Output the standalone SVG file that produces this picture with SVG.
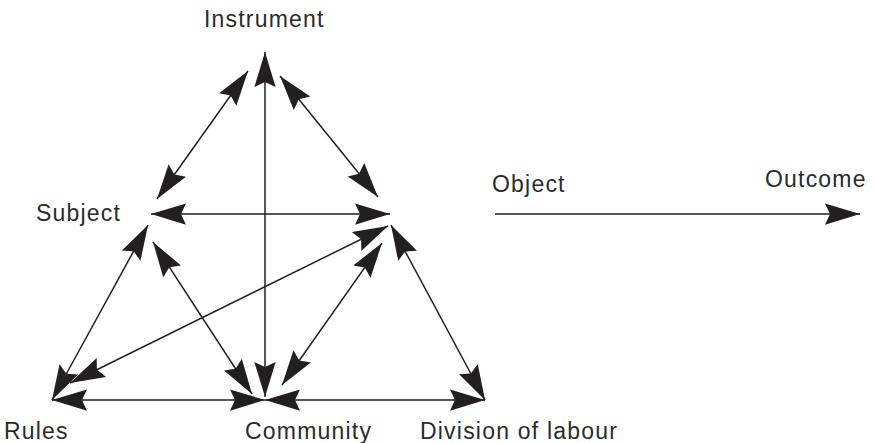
<svg xmlns="http://www.w3.org/2000/svg" width="876" height="443" viewBox="0 0 876 443">
<defs>
<marker id="ah" markerUnits="userSpaceOnUse" markerWidth="40" markerHeight="40" refX="0" refY="0" viewBox="-30 -10 32 20" orient="auto-start-reverse" overflow="visible">
<path d="M0,0 L-28,-8.5 L-24,0 L-28,8.5 Z" fill="#231f20"/>
</marker>
</defs>
<style>
.lbl{font-family:"Liberation Sans",Arial,sans-serif;font-size:23px;letter-spacing:1.2px;fill:#2b2b2b}
.c{stroke:#231f20;stroke-width:1.5;fill:none;marker-end:url(#ah)}
.b{marker-start:url(#ah)}
</style>
<rect width="876" height="443" fill="#fff"/>
<g id="connectors">
<line class="c b" x1="265" y1="397" x2="265" y2="52"/>
<line class="c b" x1="157" y1="199" x2="248" y2="71"/>
<line class="c b" x1="378" y1="197" x2="280" y2="76"/>
<line class="c b" x1="390" y1="214" x2="151" y2="214"/>
<line class="c b" x1="52" y1="400" x2="148" y2="225"/>
<line class="c b" x1="252" y1="394" x2="153" y2="242"/>
<line class="c b" x1="70" y1="383" x2="388" y2="226"/>
<line class="c b" x1="282" y1="385" x2="382" y2="243"/>
<line class="c b" x1="485" y1="400" x2="391" y2="225"/>
<line class="c b" x1="265" y1="400" x2="52" y2="400"/>
<line class="c b" x1="265" y1="400" x2="485" y2="400"/>
<line class="c" x1="495" y1="214" x2="860" y2="214"/>
</g>
<g id="instrument"><text class="lbl" x="204" y="27">Instrument</text></g>
<g id="subject"><text class="lbl" x="36" y="221">Subject</text></g>
<g id="object"><text class="lbl" x="492" y="192">Object</text></g>
<g id="outcome"><text class="lbl" x="765" y="187">Outcome</text></g>
<g id="rules"><text class="lbl" x="4" y="439">Rules</text></g>
<g id="community"><text class="lbl" x="245" y="439">Community</text></g>
<g id="division"><text class="lbl" x="420" y="439">Division of labour</text></g>
</svg>
